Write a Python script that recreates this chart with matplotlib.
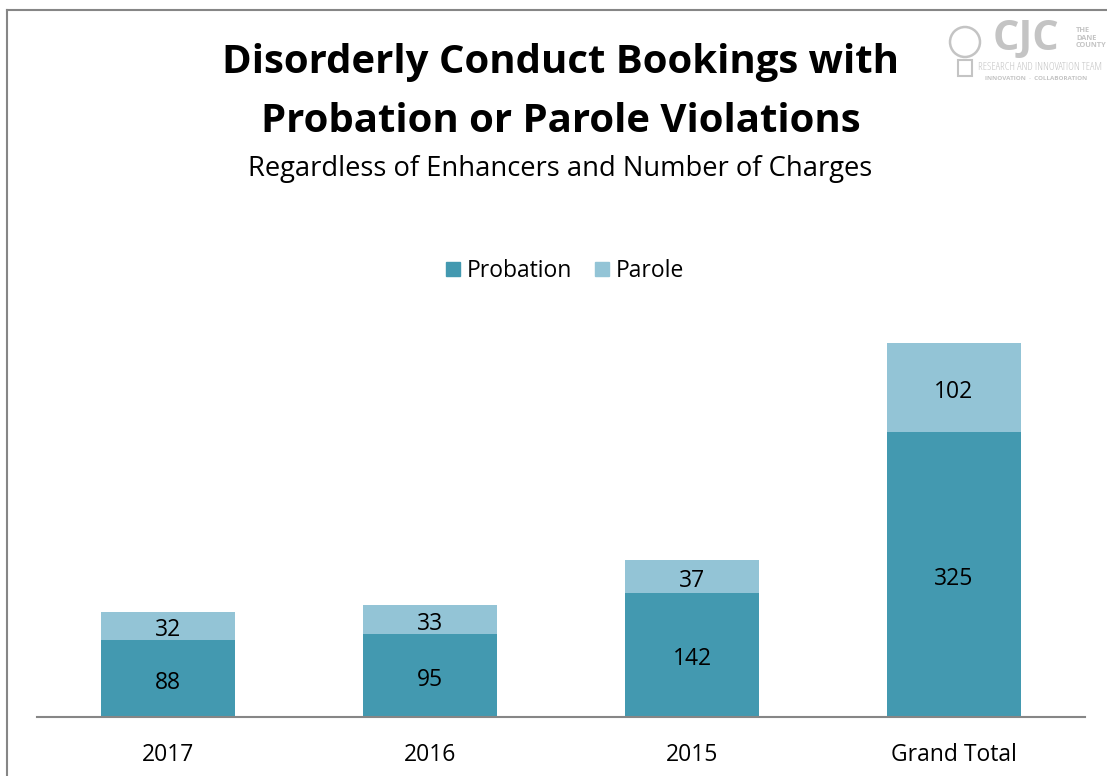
import matplotlib.pyplot as plt
from matplotlib.lines import Line2D
from matplotlib.patches import Patch, Ellipse, Rectangle

# values
categories = ['2017', '2016', '2015', 'Grand Total']
probation = [88, 95, 142, 325]
parole = [32, 33, 37, 102]

col_prob = '#4399B0'
col_parole = '#93C4D6'

plt.rcParams['font.family'] = ['Open Sans', 'DejaVu Sans']

W, H = 1107, 776
fig = plt.figure(figsize=(W / 100, H / 100), dpi=100)

# axes placed in pixel terms: baseline at y=717, x from 37 to 1085
ymax = 450
px_per_unit = 0.876
ax_top = 717 - ymax * px_per_unit
ax = fig.add_axes([37 / W, (H - 717) / H, (1085 - 37) / W, (717 - ax_top) / H])

x = range(len(categories))
ax.bar(x, probation, width=0.515, color=col_prob)
ax.bar(x, parole, width=0.515, bottom=probation, color=col_parole)

shift = 5  # small nudge so the labels sit like the reference
for i in x:
    ax.text(i, probation[i] / 2 - shift, str(probation[i]), ha='center', va='center',
            fontsize=16.5, color='black')
    ax.text(i, probation[i] + parole[i] / 2 - shift, str(parole[i]), ha='center',
            va='center', fontsize=16.5, color='black')

ax.set_xlim(-0.5, len(categories) - 0.5)
ax.set_ylim(0, ymax)
ax.set_xticks(list(x))
ax.set_xticklabels(categories, fontsize=16.5)
ax.tick_params(axis='x', length=0, pad=19)
ax.set_yticks([])
for s in ['top', 'right', 'left']:
    ax.spines[s].set_visible(False)
ax.spines['bottom'].set_color('#868686')
ax.spines['bottom'].set_linewidth(1.5)

# titles
fig.text(560 / W, 1 - 63 / H, 'Disorderly Conduct Bookings with', ha='center',
         va='center', fontsize=28.9, fontweight='bold')
fig.text(561 / W, 1 - 121 / H, 'Probation or Parole Violations', ha='center',
         va='center', fontsize=28.9, fontweight='bold')
fig.text(560 / W, 1 - 169 / H, 'Regardless of Enhancers and Number of Charges',
         ha='center', va='center', fontsize=19.7)

# legend
handles = [Patch(color=col_prob, label='Probation'),
           Patch(color=col_parole, label='Parole')]
fig.legend(handles=handles, loc='center', bbox_to_anchor=(565 / W, 1 - 271 / H),
           ncol=2, frameon=False, fontsize=16.5, handlelength=0.62, handleheight=0.62,
           handletextpad=0.3, columnspacing=1.0)

# chart border (left and top)
fig.add_artist(Line2D([7 / W, 7 / W], [0, 1 - 10 / H], transform=fig.transFigure,
                      color='#868686', lw=1.5))
fig.add_artist(Line2D([7 / W, 1], [1 - 10 / H, 1 - 10 / H], transform=fig.transFigure,
                      color='#868686', lw=1.5))

# logo approximation
gray = '#C4C4C4'
fig.text(1026 / W, 1 - 40 / H, 'CJC', ha='center', va='center', fontsize=30,
         fontweight='bold', color=gray)
fig.text(1076 / W, 1 - 38 / H, 'THE\nDANE\nCOUNTY', ha='left', va='center',
         fontsize=5.3, fontweight='bold', color=gray, linespacing=1.05)
fig.text(978 / W, 1 - 68 / H, 'RESEARCH AND INNOVATION TEAM', ha='left',
         va='center', fontsize=8, color=gray, fontstretch='condensed')
fig.text(1036 / W, 1 - 79 / H, 'INNOVATION  ·  COLLABORATION', ha='center',
         va='center', fontsize=4.5, fontweight='bold', color=gray)
fig.add_artist(Ellipse((965 / W, 1 - 42 / H), 30 / W, 30 / H, transform=fig.transFigure,
                       fill=False, ec=gray, lw=1.8))
fig.add_artist(Rectangle((958 / W, 1 - 76 / H), 14 / W, 16 / H, transform=fig.transFigure,
                         fill=False, ec=gray, lw=1.5))

fig.savefig('out.png', dpi=100)
